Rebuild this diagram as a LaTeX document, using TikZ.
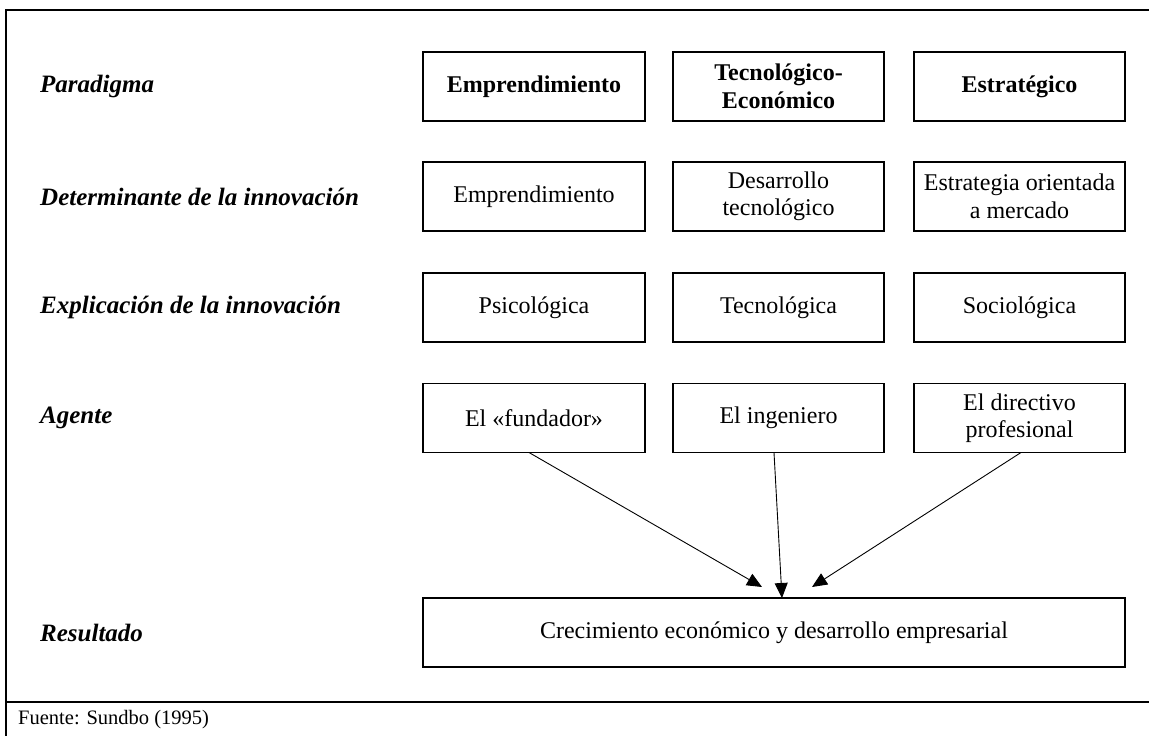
\documentclass[tikz,border=0pt]{standalone}
\usepackage{fontspec}
\setmainfont{Liberation Serif}
\usetikzlibrary{arrows.meta}
\begin{document}
\begin{tikzpicture}[x=1pt,y=-1pt,
  frame/.style={line width=1.8pt},
  box/.style={draw, line width=1.6pt, inner sep=0pt, outer sep=0pt, minimum height=69pt, align=center, font=\fontsize{24}{27.5}\selectfont},
  boldbox/.style={box, font=\fontsize{24}{27.5}\selectfont\bfseries},
  rowlabel/.style={anchor=west, inner sep=0pt, font=\fontsize{25}{28}\selectfont\bfseries\itshape},
  arr/.style={line width=0.9pt, -{Triangle[length=15pt, width=13pt]}}]
\useasboundingbox (0,0) rectangle (1149,736);
% frame
\draw[frame] (6,736) -- (6,10) -- (1149,10);
\draw[frame] (6,702) -- (1149,702);
\node[anchor=west, inner sep=0pt, font=\fontsize{20.5}{24}\selectfont] (src) at (18,720) {Fuente: Sundbo (1995)};
% row labels
\node[rowlabel] (l1) at (40,86.5) {Paradigma};
\node[rowlabel] (l2) at (40,196.5) {Determinante de la innovación};
\node[rowlabel] (l3) at (40,307.5) {Explicación de la innovación};
\node[rowlabel] (l4) at (40,418) {Agente};
\node[rowlabel] (l5) at (40,632.5) {Resultado};
% row 1
\node[boldbox, minimum width=222pt] (p1) at (534,86.5) {Emprendimiento};
\node[boldbox, minimum width=211pt] (p2) at (778.5,86.5) {Tecnológico-\\Económico};
\node[boldbox, minimum width=211pt] (p3) at (1019.5,86.5) {Estratégico};
% row 2
\node[box, minimum width=222pt] (d1) at (534,196.5) {Emprendimiento};
\node[box, minimum width=211pt] (d2) at (778.5,196.5) {Desarrollo\\tecnológico};
\node[box, minimum width=211pt] (d3) at (1019.5,196.5) {Estrategia orientada\\a mercado};
% row 3
\node[box, minimum width=222pt] (e1) at (534,307.5) {Psicológica};
\node[box, minimum width=211pt] (e2) at (778.5,307.5) {Tecnológica};
\node[box, minimum width=211pt] (e3) at (1019.5,307.5) {Sociológica};
% row 4
\node[box, minimum width=222pt] (a1) at (534,418) {El «fundador»};
\node[box, minimum width=211pt] (a2) at (778.5,418) {El ingeniero};
\node[box, minimum width=211pt] (a3) at (1019.5,418) {El directivo\\profesional};
% result
\node[box, minimum width=702pt] (r) at (774,632.5) {Crecimiento económico y desarrollo empresarial};
% arrow tips
\coordinate (t1) at ([xshift=-12pt, yshift=11pt]r.north);
\coordinate (t3) at ([xshift=38pt, yshift=11pt]r.north);
\draw[arr] ([xshift=-5pt]a1.south) -- (t1);
\draw[arr] ([xshift=-4.5pt]a2.south) -- ([xshift=8pt]r.north);
\draw[arr] ([xshift=1.5pt]a3.south) -- (t3);
\end{tikzpicture}
\end{document}
